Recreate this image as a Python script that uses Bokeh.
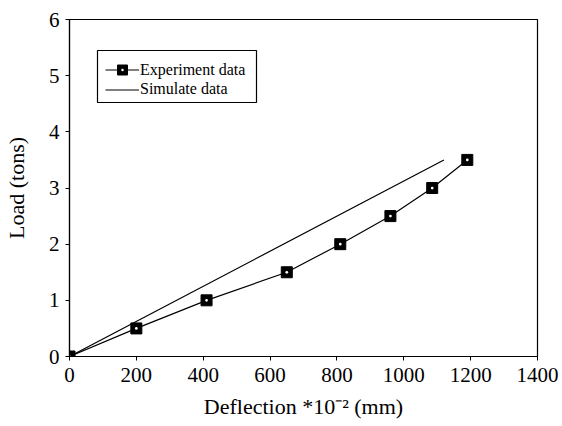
from bokeh.plotting import figure
from bokeh.models import Legend, LegendItem, Range1d, FixedTicker, BoxAnnotation
from bokeh.embed import file_html
from bokeh.resources import INLINE

# data
exp_deflection = [0, 200, 410, 650, 810, 960, 1085, 1190]
exp_load = [0, 0.5, 1.0, 1.5, 2.0, 2.5, 3.0, 3.5]
sim_deflection = [0, 1120]
sim_load = [0, 3.5]
x_ticks = [0, 200, 400, 600, 800, 1000, 1200, 1400]
y_ticks = [0, 1, 2, 3, 4, 5, 6]

FONT = "Liberation Serif"

p = figure(width=562, height=426, output_backend="svg", toolbar_location=None,
           x_range=Range1d(0, 1400), y_range=Range1d(0, 6))
p.min_border_left = 69
p.min_border_right = 25
p.min_border_top = 19
p.min_border_bottom = 70
p.background_fill_color = "white"
p.border_fill_color = "white"
p.outline_line_color = "black"
p.outline_line_width = 1.2
p.grid.visible = False

for ax in (p.xaxis[0], p.yaxis[0]):
    ax.axis_line_color = "black"
    ax.axis_line_width = 1.2
    ax.major_tick_in = 0
    ax.major_tick_out = 4
    ax.major_tick_line_color = "black"
    ax.minor_tick_line_color = None
    ax.major_label_text_font = FONT
    ax.major_label_text_font_size = "21px"
    ax.major_label_text_color = "black"
    ax.axis_label_text_font = FONT
    ax.axis_label_text_font_size = "22px"
    ax.axis_label_text_font_style = "normal"
    ax.axis_label_text_color = "black"

p.xaxis.ticker = FixedTicker(ticks=x_ticks)
p.yaxis.ticker = FixedTicker(ticks=y_ticks)
p.xaxis.major_label_standoff = 7
p.yaxis.major_label_standoff = 6
p.xaxis.axis_label = "Deflection *10\u207b\u00b2 (mm)"
p.yaxis.axis_label = "Load (tons)"
p.xaxis.axis_label_standoff = 9
p.yaxis.axis_label_standoff = 17

r_sim = p.line(sim_deflection, sim_load, line_color="black", line_width=1.2)
r_exp_line = p.line(exp_deflection, exp_load, line_color="black", line_width=1.2)
r_sq = p.scatter(exp_deflection, exp_load, marker="square", size=11,
                 fill_color="black", line_color="black")
r_dot = p.scatter(exp_deflection, exp_load, marker="dot", size=11,
                  line_color="white", fill_color="white")

# legend frame (screen units, relative to the plot frame)
legend_box = BoxAnnotation(left=28, right=187, top=306, bottom=254,
                           left_units="screen", right_units="screen",
                           top_units="screen", bottom_units="screen",
                           fill_color="white", fill_alpha=1.0,
                           line_color="black", line_width=1.2, line_alpha=1.0,
                           editable=False)
p.add_layout(legend_box)


def make_legend(item, loc, gh):
    lg = Legend(items=[item], location=loc)
    lg.border_line_color = None
    lg.background_fill_alpha = 0
    lg.label_text_font = FONT
    lg.label_text_font_size = "16px"
    lg.label_text_color = "black"
    lg.glyph_width = 34
    lg.glyph_height = gh
    lg.label_height = gh
    lg.label_standoff = 1
    lg.padding = 0
    lg.margin = 0
    return lg


p.add_layout(make_legend(
    LegendItem(label="Experiment data", renderers=[r_exp_line, r_sq, r_dot]),
    (36, 274), 25))
p.add_layout(make_legend(
    LegendItem(label="Simulate data", renderers=[r_sim]),
    (36, 258), 15))

open("out.html", "w").write(file_html(p, INLINE))
